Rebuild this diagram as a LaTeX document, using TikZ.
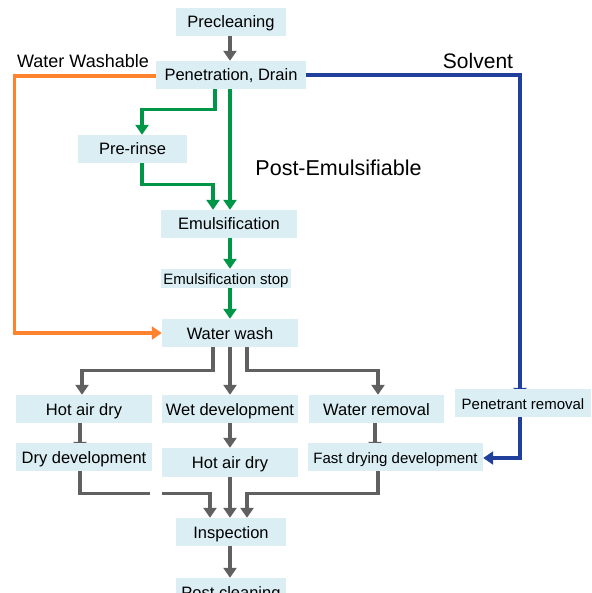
\documentclass[tikz,border=0pt]{standalone}
\usepackage{fontspec}
\setmainfont{Liberation Sans}
\usetikzlibrary{arrows.meta,calc}
\definecolor{boxblue}{RGB}{218,238,243}
\definecolor{cgray}{RGB}{96,96,96}
\definecolor{cgreen}{RGB}{0,150,72}
\definecolor{corange}{RGB}{255,130,46}
\definecolor{cblue}{RGB}{33,64,156}
\pgfdeclarelayer{bg}
\pgfsetlayers{bg,main}
\begin{document}
\begin{tikzpicture}[x=1pt,y=-1pt,
  box/.style={fill=boxblue,inner sep=0pt,minimum height=28pt,text height=12pt,text depth=0pt,font=\fontsize{16.5}{19}\selectfont},
  sbox/.style={box,text height=13pt,text depth=-2pt,font=\fontsize{15}{18}\selectfont},
  conn/.style={line width=3.2pt,-{Triangle[width=13pt,length=10pt]}},
  gline/.style={conn,draw=cgray},
  grline/.style={conn,draw=cgreen},
  oline/.style={conn,draw=corange},
  bline/.style={conn,draw=cblue},
  lbl/.style={anchor=base,inner sep=0pt}]
\useasboundingbox (0,0) rectangle (591,593);
\clip (0,0) rectangle (591,593);
% nodes
\node[box,minimum width=110pt] (pre) at (231,22) {Precleaning};
\node[box,minimum width=150pt] (pen) at (231,75) {Penetration, Drain};
\node[box,minimum width=109pt] (rinse) at (132.5,149) {Pre-rinse};
\node[box,minimum width=136pt,text depth=1pt] (emul) at (229,224) {Emulsification};
\node[sbox,minimum width=130pt,minimum height=19pt,text height=12pt,text depth=-1pt] (stop) at (226,278.5) {Emulsification stop};
\node[box,minimum width=136pt,text depth=-2pt] (wash) at (230,333) {Water wash};
\node[box,minimum width=136pt] (had1) at (84,409) {Hot air dry};
\node[box,minimum width=136pt] (wet) at (230,409) {Wet development};
\node[box,minimum width=135pt] (wrem) at (376.5,409) {Water removal};
\node[sbox,minimum width=136pt,text depth=-1pt] (prem) at (523,403) {Penetrant removal};
\node[box,minimum width=136pt,text depth=-3pt] (dry) at (84,457) {Dry development};
\node[box,minimum width=136pt,minimum height=29pt] (had2) at (230,462.5) {Hot air dry};
\node[sbox,minimum width=175pt,text depth=-3pt] (fast) at (395.5,457) {Fast drying development};
\node[box,minimum width=110pt] (insp) at (231,532) {Inspection};
\node[box,minimum width=110pt] (post) at (231,592) {Post cleaning};
\coordinate (c) at (230,0);
% labels
\node[lbl,font=\fontsize{18}{21}\selectfont] (ww) at (83,68) {Water Washable};
\node[lbl,font=\fontsize{21}{24}\selectfont] (sol) at (478,69) {Solvent};
\node[lbl,font=\fontsize{21.5}{24}\selectfont] (pe) at (338.5,176) {Post-Emulsifiable};
% connectors
\begin{pgfonlayer}{bg}
\draw[gline] (c|-pre.south) -- (c|-pen.north);
\draw[grline] ([xshift=-16pt]pen.south) -- ++(0,20) -| ([xshift=9.5pt]rinse.north);
\draw[grline] (c|-pen.south) -- (c|-emul.north);
\draw[grline] ([xshift=9.5pt]rinse.south) -- ++(0,21) -| ([xshift=-16pt]emul.north);
\draw[grline] (c|-emul.south) -- (c|-stop.north);
\draw[grline] (c|-stop.south) -- (c|-wash.north);
\draw[oline] ([yshift=-1pt]pen.west) -- ++(-141,0) |- (wash.west);
\draw[bline] (pen.east) -| ([xshift=-3pt,yshift=-9pt]prem.north);
\draw[bline] ([xshift=-3pt]prem.south) |- ([yshift=-1pt]fast.east);
\draw[gline] ([xshift=-17pt]wash.south) -- ++(0,23) -| ([xshift=-2pt]had1.north);
\draw[gline] (c|-wash.south) -- (c|-wet.north);
\draw[gline] ([xshift=17pt]wash.south) -- ++(0,23) -| ([xshift=1.5pt]wrem.north);
\draw[gline] ([xshift=-4pt]had1.south) -- ([xshift=-4pt,yshift=-9pt]dry.north);
\draw[gline] (c|-wet.south) -- (c|-had2.north);
\draw[gline] ([xshift=-1.5pt]wrem.south) -- ($([xshift=-1.5pt]wrem.south |- fast.north)+(0,9)$);
\draw[gline] ([xshift=-4pt]dry.south) -- ++(0,22) -| ([xshift=-21pt]insp.north);
\draw[gline] (c|-had2.south) -- (c|-insp.north);
\draw[gline] ([xshift=-17.5pt]fast.south) -- ++(0,22) -| ([xshift=16pt]insp.north);
\draw[gline] (c|-insp.south) -- (c|-post.north);
\fill[white] (150,488) rectangle (162,498);
\end{pgfonlayer}
\end{tikzpicture}
\end{document}
